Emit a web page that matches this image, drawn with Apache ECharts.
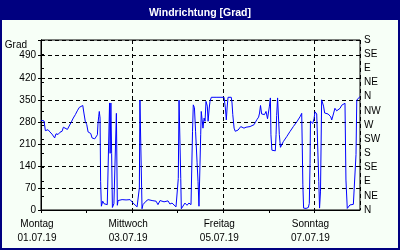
<!DOCTYPE html>
<html>
<head>
<meta charset="utf-8">
<script src="https://cdn.jsdelivr.net/npm/echarts@6/dist/echarts.min.js"></script>
<style>html,body{margin:0;padding:0;}#c{width:400px;height:250px;}</style>
</head>
<body>
<div id="c"></div>
<script>
// Hours since Monday 01.07.19 00:00
var hours = [0,0.9,1.6,2.3,3.0,3.7,4.7,5.8,6.5,7.2,7.9,9.0,10.0,11.1,11.8,12.8,13.9,14.9,16.0,17.0,18.1,19.1,20.2,21.2,22.0,22.6,23.3,24.1,24.8,25.4,26.2,26.9,27.5,28.3,29.0,29.7,30.0,30.4,30.7,31.1,31.4,31.8,32.5,33.2,33.9,34.9,35.7,36.1,36.4,36.8,37.2,37.6,38.4,39.2,39.7,40.2,40.6,41.6,42.7,43.7,44.8,45.8,46.9,47.9,48.5,49.5,50.6,51.5,51.8,52.1,52.7,53.0,53.2,53.7,54.6,55.3,56.4,57.4,58.5,59.5,60.6,61.6,62.7,63.7,64.8,65.8,66.9,67.9,69.0,70.0,71.1,71.9,72.3,72.7,73.2,73.6,73.9,74.8,75.8,76.9,77.9,79.0,79.8,80.2,80.8,81.4,82.2,82.7,83.2,83.7,84.1,84.4,84.8,85.3,85.9,86.4,86.9,87.6,88.0,88.6,89.0,89.7,90.1,91.1,92.2,93.2,94.3,95.3,96.4,97.1,97.6,98.0,98.5,99.5,100.2,100.6,101.0,101.7,102.3,103.1,103.8,104.4,105.2,105.9,106.9,108.0,109.0,110.1,111.1,112.2,113.0,113.8,114.6,115.1,115.6,116.2,116.9,117.7,118.5,119.3,119.9,120.3,120.8,121.1,121.6,122.2,123.4,123.8,124.1,124.6,125.0,125.5,126.1,126.9,127.6,129.4,131.1,132.9,134.7,136.4,137.3,137.6,137.9,138.3,139.6,140.8,141.3,141.7,141.9,142.6,143.1,143.8,144.3,145.2,145.5,145.9,146.3,146.7,147.2,147.8,148.4,148.8,149.4,150.1,151.2,152.2,152.6,153.1,154.0,154.8,155.7,156.6,157.5,158.4,159.2,160.1,160.6,161.3,161.9,162.7,163.6,164.5,165.4,165.9,166.3,167.1,167.6,168.0];
// Wind direction in degrees
var degrees = [285,287,283,252,252,255,248,241,240,229,242,240,247,250,263,260,256,258,280,292,303,315,326,332,332,308,282,271,248,250,243,229,223,226,220,239,273,298,313,292,91,12,28,20,22,17,22,340,180,340,180,8,20,15,307,15,30,32,33,30,32,30,33,28,22,17,10,4,70,349,349,70,4,17,15,28,33,32,30,35,28,17,30,25,26,20,29,19,22,17,10,6,100,349,349,100,4,10,22,15,22,17,250,334,325,250,150,91,12,10,239,313,318,260,292,282,345,330,282,324,345,358,360,358,358,358,358,358,358,324,286,324,358,358,358,340,303,260,250,248,254,260,265,260,260,263,262,265,266,271,280,288,295,308,332,305,308,303,313,290,286,330,356,239,190,191,188,240,300,356,358,240,199,195,217,233,249,265,280,296,307,200,80,6,5,8,21,148,282,285,275,290,312,305,308,300,90,6,60,350,356,330,308,307,305,307,296,286,305,323,315,310,323,333,339,339,95,5,8,16,20,18,21,176,349,349,358,360];
var dayNames = ['Montag','Dienstag','Mittwoch','Donnerstag','Freitag','Samstag','Sonntag','Montag'];
var dayDates = ['01.07.19','02.07.19','03.07.19','04.07.19','05.07.19','06.07.19','07.07.19','08.07.19'];
var leftTicks = [0,70,140,210,280,350,420,490];
var compass = ['N','NE','E','SE','S','SW','W','NW','N','NE','E','SE','S'];

var FONT = 'Liberation Sans';
var seriesData = hours.map(function (h, i) { return [h, degrees[i]]; });

var chart = echarts.init(document.getElementById('c'), null, {renderer: 'canvas'});
chart.setOption({
  animation: false,
  backgroundColor: '#000080',
  title: {
    text: 'Windrichtung [Grad]',
    left: 'center',
    top: 3,
    textStyle: {color: '#ffffff', fontFamily: FONT, fontWeight: 'bold', fontSize: 10.5}
  },
  graphic: [
    {type: 'rect', z: -1, silent: true, shape: {x: 2, y: 20, width: 396, height: 228}, style: {fill: '#f7fff7'}},
    {type: 'text', silent: true, x: 27, y: 45, style: {text: 'Grad', fill: '#000', font: '10px ' + FONT, textAlign: 'right', textVerticalAlign: 'middle'}}
  ],
  grid: {left: 41, right: 40, top: 40, bottom: 40, show: true, borderColor: '#000', borderWidth: 1, backgroundColor: 'transparent'},
  xAxis: [{
    type: 'value', min: 0, max: 168, interval: 24,
    axisLine: {show: true, onZero: false, lineStyle: {color: '#000', width: 1}},
    axisTick: {show: true, inside: false, length: 3, lineStyle: {color: '#000'}},
    splitLine: {show: false},
    axisLabel: {
      show: true, margin: 7, color: '#000', fontFamily: FONT, fontSize: 10, lineHeight: 14,
      padding: [0, 8, 0, 0],
      showMaxLabel: false,
      formatter: function (v) {
        var d = Math.round(v / 24);
        if (d % 2 === 0 && d < 7) return dayNames[d] + '\n' + dayDates[d];
        return '';
      }
    }
  }, {
    type: 'value', min: 0, max: 168, interval: 48, position: 'top',
    axisLine: {show: false}, axisTick: {show: false}, axisLabel: {show: false},
    splitLine: {show: true, lineStyle: {color: '#000', type: [4, 3], width: 1}}
  }],
  yAxis: [{
    type: 'value', min: 0, max: 540, interval: 70, position: 'left',
    axisLine: {show: true, lineStyle: {color: '#000'}},
    axisTick: {show: true, length: 3, lineStyle: {color: '#000'}},
    splitLine: {show: true, lineStyle: {color: '#000', type: [4, 3], width: 1}},
    axisLabel: {
      margin: 5, color: '#000', fontFamily: FONT, fontSize: 10,
      formatter: function (v) { return leftTicks.indexOf(v) >= 0 ? String(v) : ''; }
    }
  }, {
    type: 'value', min: 0, max: 540, interval: 45, position: 'right',
    axisLine: {show: true, lineStyle: {color: '#000'}},
    axisTick: {show: true, length: 3, lineStyle: {color: '#000'}},
    splitLine: {show: false},
    axisLabel: {
      margin: 4, color: '#000', fontFamily: FONT, fontSize: 10,
      formatter: function (v) { return compass[Math.round(v / 45)]; }
    }
  }],
  series: [{
    type: 'line',
    xAxisIndex: 0, yAxisIndex: 0,
    data: seriesData,
    showSymbol: false,
    symbol: 'none',
    lineStyle: {color: '#0000ff', width: 1},
    z: 3
  }]
});
</script>
</body>
</html>
